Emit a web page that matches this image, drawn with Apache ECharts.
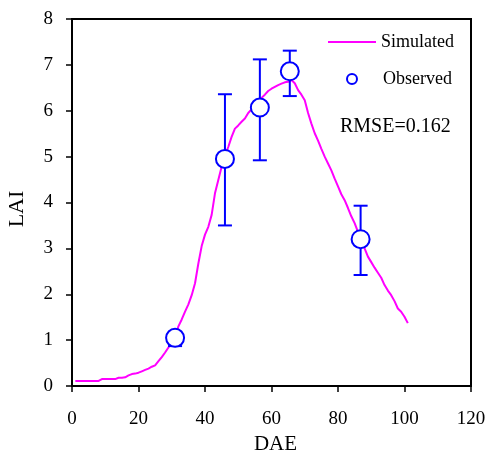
<!DOCTYPE html>
<html>
<head>
<meta charset="utf-8">
<script src="https://cdn.jsdelivr.net/npm/echarts@6/dist/echarts.min.js"></script>
<style>html,body{margin:0;padding:0;background:#fff}#c{width:487px;height:456px}</style>
</head>
<body>
<div id="c"></div>
<script>
const simDays = [];
for (let d = 1; d <= 101; d++) simDays.push(d);
const simLAI = [0.11,0.11,0.11,0.11,0.11,0.11,0.11,0.11,0.15,0.15,
  0.15,0.15,0.15,0.18,0.18,0.19,0.23,0.26,0.27,0.29,
  0.32,0.35,0.38,0.42,0.45,0.54,0.63,0.73,0.84,0.95,
  1.08,1.30,1.45,1.62,1.78,1.98,2.24,2.67,3.05,3.30,
  3.47,3.73,4.20,4.49,4.78,5.02,5.21,5.43,5.61,5.68,
  5.76,5.83,5.95,6.03,6.12,6.20,6.28,6.35,6.43,6.48,
  6.52,6.56,6.59,6.62,6.63,6.67,6.60,6.45,6.35,6.23,
  5.95,5.72,5.51,5.35,5.17,5.00,4.85,4.70,4.52,4.35,
  4.18,4.05,3.88,3.70,3.55,3.36,3.18,3.00,2.82,2.70,
  2.58,2.47,2.36,2.20,2.08,1.98,1.85,1.69,1.62,1.51,1.37];
const obsDays = [31, 46, 56.5, 65.5, 86.8];
const obsLAI = [1.05, 4.95, 6.07, 6.86, 3.20];
const obsLow = [0.87, 3.50, 4.92, 6.32, 2.42];
const obsHigh = [1.18, 6.36, 7.12, 7.31, 3.93];
const xTicks = [0, 20, 40, 60, 80, 100, 120];
const yTicks = [0, 1, 2, 3, 4, 5, 6, 7, 8];

const font = 'Liberation Serif';
const chart = echarts.init(document.getElementById('c'), null, {renderer: 'canvas'});
chart.setOption({
  animation: false,
  backgroundColor: '#fff',
  textStyle: {fontFamily: font},
  grid: {left: 72, right: 16, top: 19, bottom: 70, containLabel: false, outerBoundsMode: 'none',
         show: true, borderColor: '#000', borderWidth: 2, backgroundColor: 'transparent'},
  legend: [
    {data: [{name: 'Simulated', icon: 'rect'}], left: 328, top: 33, padding: 0, itemWidth: 48, itemHeight: 2,
     itemStyle: {color: '#FF00FF'},
     textStyle: {fontFamily: font, fontSize: 18, color: '#000'}},
    {data: ['Observed'], left: 346, top: 70, padding: 0, itemWidth: 10, itemHeight: 10,
     textStyle: {fontFamily: font, fontSize: 18, color: '#000', padding: [0, 0, 0, 21]}}
  ],
  graphic: [{type: 'text', left: 340, top: 117, style: {text: 'RMSE=0.162', fontFamily: font, fontSize: 20, fill: '#000'}}],
  xAxis: {
    type: 'value', min: xTicks[0], max: xTicks[xTicks.length - 1], interval: 20,
    name: 'DAE', nameLocation: 'middle', nameGap: 48,
    nameTextStyle: {fontFamily: font, fontSize: 21, color: '#000', padding: [0, 0, 0, 8]},
    axisLine: {show: true, lineStyle: {color: '#000', width: 2}},
    axisTick: {show: true, inside: false, length: 6, lineStyle: {color: '#000', width: 1.5}},
    axisLabel: {fontFamily: font, fontSize: 19, color: '#000', margin: 24},
    splitLine: {show: false}
  },
  yAxis: {
    type: 'value', min: yTicks[0], max: yTicks[yTicks.length - 1], interval: 1,
    name: 'LAI', nameLocation: 'middle', nameGap: 44, nameRotate: 90,
    nameTextStyle: {fontFamily: font, fontSize: 22, color: '#000', padding: [0, 13, 0, 0]},
    axisLine: {show: true, lineStyle: {color: '#000', width: 2}},
    axisTick: {show: true, inside: false, length: 6, lineStyle: {color: '#000', width: 1.5}},
    axisLabel: {fontFamily: font, fontSize: 19, color: '#000', margin: 19},
    splitLine: {show: false}
  },
  series: [
    {name: 'Simulated', type: 'line', data: simDays.map((d, i) => [d, simLAI[i]]),
     showSymbol: false, symbol: 'none', lineStyle: {color: '#FF00FF', width: 2}, itemStyle: {color: '#FF00FF'}, z: 2},
    {name: 'errbar', type: 'custom', z: 3,
     data: obsDays.map((d, i) => [d, obsLow[i], obsHigh[i]]),
     renderItem: function (params, api) {
       const x = api.value(0);
       const lo = api.coord([x, api.value(1)]);
       const hi = api.coord([x, api.value(2)]);
       const hw = 7;
       const st = {stroke: '#0000FF', lineWidth: 2};
       return {type: 'group', children: [
         {type: 'line', shape: {x1: lo[0], y1: lo[1], x2: hi[0], y2: hi[1]}, style: st},
         {type: 'line', shape: {x1: lo[0] - hw, y1: lo[1], x2: lo[0] + hw, y2: lo[1]}, style: st},
         {type: 'line', shape: {x1: hi[0] - hw, y1: hi[1], x2: hi[0] + hw, y2: hi[1]}, style: st}
       ]};
     }},
    {name: 'Observed', type: 'scatter', z: 4, data: obsDays.map((d, i) => [d, obsLAI[i]]),
     symbol: 'circle', symbolSize: 18,
     itemStyle: {color: '#fff', borderColor: '#0000FF', borderWidth: 2, opacity: 1}}
  ]
});
</script>
</body>
</html>
